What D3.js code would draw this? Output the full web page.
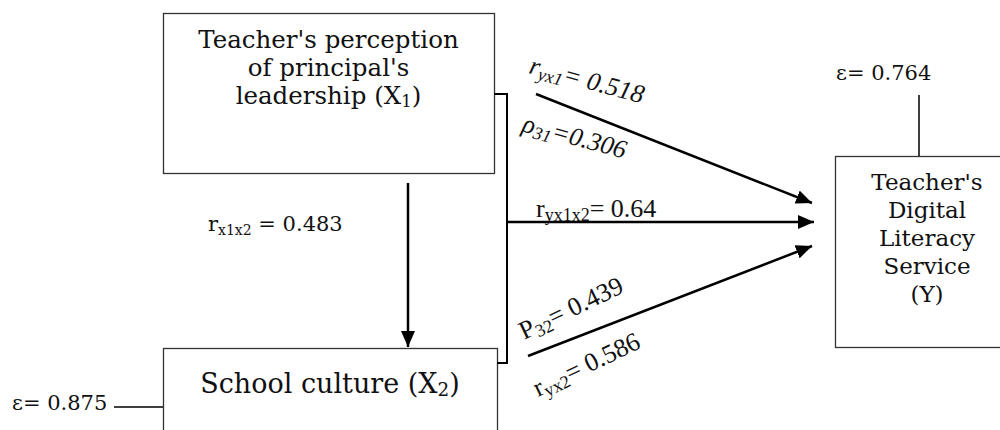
<!DOCTYPE html>
<html>
<head>
<meta charset="utf-8">
<script src="https://cdn.jsdelivr.net/npm/d3@7"></script>
<style>
  body { margin: 0; background: #fff; }
  svg { display: block; }
  text { font-family: "DejaVu Serif", "Liberation Serif", serif; fill: #111; }
  .times { font-family: "Liberation Serif", "Times New Roman", serif; }
</style>
</head>
<body>
<div id="chart"></div>
<script>
// variables (path model)
var nodeIds = ["X1", "X2", "Y"];
var nodeLines = [
    ["Teacher's perception", "of principal's", "leadership (X|1|)"],
    ["School culture (X|2|)"],
    ["Teacher's", "Digital", "Literacy", "Service", "(Y)"]
];

// coefficients: symbol, subscript, value
var coefSymbols = ["r", "r", "\u03c1", "r", "P", "r"];
var coefSubs = ["x1x2", "yx1", "31", "yx1x2", "32", "yx2"];
var coefValues = [0.483, 0.518, 0.306, 0.64, 0.439, 0.586];

// residuals for X2 and Y
var residNodes = ["X2", "Y"];
var residValues = [0.875, 0.764];

// ---- layout (pixels) ----
var W = 1000, H = 430;
var boxes = {
    X1: { x: 163, y: 13, w: 331, h: 160, lineY: 48, lh: 28, fs: 24.5 },
    X2: { x: 163, y: 348, w: 334, h: 100, lineY: 393, lh: 28, fs: 27 },
    Y:  { x: 835, y: 156, w: 185, h: 191, lineY: 190, lh: 28, fs: 23, cx: 927 }
};
// label placement
var labelPos = [
    { x: 208, y: 231, rot: 0, it: false, times: false, fs: 21, sub: 14 },
    { x: 528, y: 73, rot: 15, it: true, times: true, fs: 26, sub: 18 },
    { x: 521, y: 131, rot: 15, it: true, times: true, fs: 26, sub: 18 },
    { x: 536, y: 217, rot: 0, it: false, times: true, fs: 26, sub: 18 },
    { x: 524, y: 340, rot: -25.5, it: false, times: true, fs: 26, sub: 18 },
    { x: 538, y: 397, rot: -25.5, it: false, times: true, fs: 26, sub: 18 }
];

var svg = d3.select("#chart").append("svg")
    .attr("width", W)
    .attr("height", H);

svg.append("defs").append("marker")
    .attr("id", "head")
    .attr("viewBox", "0 0 16 14")
    .attr("refX", 16)
    .attr("refY", 7)
    .attr("markerWidth", 16)
    .attr("markerHeight", 14)
    .attr("markerUnits", "userSpaceOnUse")
    .attr("orient", "auto")
    .append("path")
    .attr("d", "M0,0 L16,7 L0,14 Z")
    .attr("fill", "#000");

// boxes
nodeIds.forEach(function (id, i) {
    var b = boxes[id];
    svg.append("rect")
        .attr("x", b.x + 0.5)
        .attr("y", b.y + 0.5)
        .attr("width", b.w)
        .attr("height", b.h)
        .attr("fill", "none")
        .attr("stroke", "#333")
        .attr("stroke-width", 1.3);

    var cx = b.cx || (b.x + b.w / 2);
    nodeLines[i].forEach(function (line, j) {
        var t = svg.append("text")
            .attr("x", cx)
            .attr("y", b.lineY + j * b.lh)
            .attr("text-anchor", "middle")
            .style("font-size", b.fs + "px");
        var parts = line.split("|");
        parts.forEach(function (p, k) {
            if (k % 2 === 1) {
                t.append("tspan").attr("dy", 3).style("font-size", (b.fs * 0.68) + "px").text(p);
            } else if (k > 0) {
                t.append("tspan").attr("dy", -3).text(p);
            } else {
                t.append("tspan").text(p);
            }
        });
    });
});

// lines
function seg(x1, y1, x2, y2, sw, arrow) {
    var l = svg.append("line")
        .attr("x1", x1).attr("y1", y1)
        .attr("x2", x2).attr("y2", y2)
        .attr("stroke", "#000")
        .attr("stroke-width", sw);
    if (arrow) l.attr("marker-end", "url(#head)");
    return l;
}

// X1 -> X2 vertical
seg(408, 183, 408, 347, 2.5, true);
// bracket joining X1 and X2
seg(494, 94, 507, 94, 2);
seg(507, 93, 507, 364, 2);
seg(497, 363, 507, 363, 2);
// paths to Y
seg(536, 94, 812, 203, 2.5, true);
seg(507, 222, 814, 222, 2.5, true);
seg(528, 356, 812, 246, 2.5, true);

// residual lines
seg(114, 407, 163, 407, 1.5);
seg(919, 95, 919, 156, 1.5);

// coefficient labels
coefSymbols.forEach(function (s, i) {
    var p = labelPos[i];
    var t = svg.append("text")
        .attr("class", p.times ? "times" : null)
        .attr("transform", "translate(" + p.x + "," + p.y + ") rotate(" + p.rot + ")")
        .style("font-size", p.fs + "px")
        .style("font-style", p.it ? "italic" : "normal");
    t.append("tspan").text(s);
    t.append("tspan").attr("dy", 4).style("font-size", p.sub + "px").text(coefSubs[i]);
    t.append("tspan").attr("dy", -4).text((i === 0 ? " = " : (i === 2 ? "=" : "= ")) + coefValues[i]);
});

// residual labels
residNodes.forEach(function (id, i) {
    var t = svg.append("text")
        .style("font-size", "21px")
        .text("\u03b5= " + residValues[i]);
    if (id === "X2") {
        t.attr("x", 12).attr("y", 410);
    } else {
        t.attr("x", 836).attr("y", 80);
    }
});
</script>
</body>
</html>
